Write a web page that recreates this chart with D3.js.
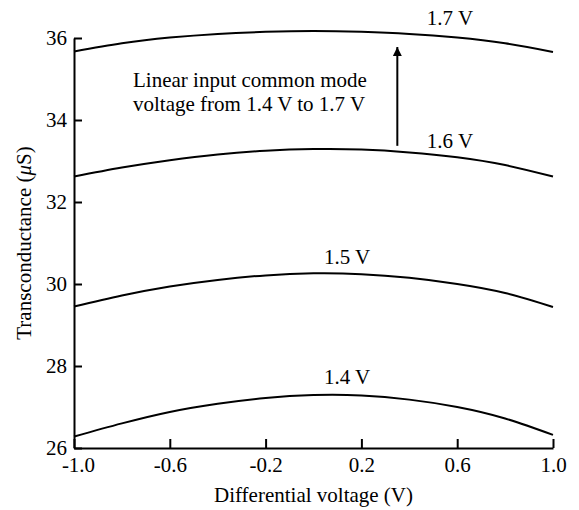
<!DOCTYPE html>
<html>
<head>
<meta charset="utf-8">
<script src="https://cdn.jsdelivr.net/npm/d3@7"></script>
<style>
  body { margin: 0; background: #fff; }
  text { font-family: "Liberation Serif", "Times New Roman", serif; fill: #000; }
</style>
</head>
<body>
<script>
// differential voltage (V)
var xValues = [-1.0, -0.8, -0.6, -0.4, -0.2, 0.0, 0.2, 0.4, 0.6, 0.8, 1.0];

// transconductance (uS) per common mode voltage
var gm14 = [26.28, 26.60, 26.88, 27.08, 27.22, 27.29, 27.28, 27.18, 27.00, 26.72, 26.32];
var gm15 = [29.45, 29.72, 29.94, 30.10, 30.21, 30.26, 30.24, 30.15, 30.00, 29.78, 29.44];
var gm16 = [32.62, 32.84, 33.02, 33.16, 33.25, 33.29, 33.28, 33.21, 33.09, 32.90, 32.62];
var gm17 = [35.67, 35.87, 36.01, 36.10, 36.15, 36.17, 36.15, 36.10, 36.01, 35.87, 35.66];

var seriesNames = ["1.4 V", "1.5 V", "1.6 V", "1.7 V"];
var seriesValues = [gm14, gm15, gm16, gm17];

var xTicks = [-1.0, -0.6, -0.2, 0.2, 0.6, 1.0];
var yTicks = [26, 28, 30, 32, 34, 36];

var width = 579;
var height = 510;
var margin = { top: 38, right: 26, bottom: 62, left: 74 };
var fontSize = 21;

var svg = d3.select("body")
    .append("svg")
    .attr("width", width)
    .attr("height", height);

var x = d3.scaleLinear()
    .domain([-1, 1])
    .range([margin.left, width - margin.right]);

var y = d3.scaleLinear()
    .domain([26, 36])
    .range([height - margin.bottom, margin.top]);

// plain hyphen for negatives, like the figure
var fmt = function (d) { return d3.format(".1f")(d).replace("\u2212", "-"); };

// axes, ticks pointing inward
var xAxis = svg.append("g")
    .attr("transform", `translate(0, ${y(26)})`)
    .call(d3.axisBottom(x)
        .tickValues(xTicks)
        .tickFormat(fmt)
        .tickSizeInner(-9)
        .tickSizeOuter(0)
        .tickPadding(9));

var yAxis = svg.append("g")
    .attr("transform", `translate(${x(-1)}, 0)`)
    .call(d3.axisLeft(y)
        .tickValues(yTicks)
        .tickSizeInner(-8)
        .tickSizeOuter(0)
        .tickPadding(7));

[xAxis, yAxis].forEach(function (g) {
    g.select(".domain").attr("stroke", "#000").attr("stroke-width", 2);
    g.selectAll(".tick line").attr("stroke", "#000").attr("stroke-width", 2);
    g.selectAll(".tick text")
        .attr("font-family", "Liberation Serif, serif")
        .attr("font-size", fontSize)
        .attr("fill", "#000");
});

// first x label sits a bit right of the corner
xAxis.selectAll(".tick text")
    .filter(function (d) { return d === -1; })
    .attr("dx", 4);

// curves
var line = d3.line()
    .x(function (d, i) { return x(xValues[i]); })
    .y(function (d) { return y(d); })
    .curve(d3.curveNatural);

svg.append("g")
    .selectAll("path")
    .data(seriesValues)
    .join("path")
    .attr("d", line)
    .attr("fill", "none")
    .attr("stroke", "#000")
    .attr("stroke-width", 2);

// curve labels (data coordinates)
var labelX = [0.14, 0.14, 0.57, 0.57];
var labelY = [27.56, 30.49, 33.32, 36.32];

svg.append("g")
    .selectAll("text")
    .data(seriesNames)
    .join("text")
    .attr("x", function (d, i) { return x(labelX[i]); })
    .attr("y", function (d, i) { return y(labelY[i]); })
    .attr("text-anchor", "middle")
    .attr("font-size", fontSize)
    .text(function (d) { return d; });

// arrow from 1.6 V toward 1.7 V
svg.append("defs")
    .append("marker")
    .attr("id", "head")
    .attr("viewBox", "0 0 10 10")
    .attr("refX", 10)
    .attr("refY", 5)
    .attr("markerWidth", 9)
    .attr("markerHeight", 9)
    .attr("markerUnits", "userSpaceOnUse")
    .attr("orient", "auto")
    .append("path")
    .attr("d", "M0,0 L10,5 L0,10 Z")
    .attr("fill", "#000");

svg.append("line")
    .attr("x1", x(0.35))
    .attr("y1", y(33.37))
    .attr("x2", x(0.35))
    .attr("y2", y(35.78))
    .attr("stroke", "#000")
    .attr("stroke-width", 2)
    .attr("marker-end", "url(#head)");

var note = svg.append("text")
    .attr("font-size", fontSize);
note.append("tspan")
    .attr("x", 133)
    .attr("y", 87)
    .text("Linear input common mode");
note.append("tspan")
    .attr("x", 133)
    .attr("y", 111)
    .text("voltage from 1.4 V to 1.7 V");

// axis titles
svg.append("text")
    .attr("x", (x(-1) + x(1)) / 2)
    .attr("y", 502)
    .attr("text-anchor", "middle")
    .attr("font-size", fontSize)
    .text("Differential voltage (V)");

var yTitle = svg.append("text")
    .attr("transform", `translate(31, ${(y(26) + y(36)) / 2}) rotate(-90)`)
    .attr("text-anchor", "middle")
    .attr("font-size", fontSize);
yTitle.append("tspan").text("Transconductance (");
yTitle.append("tspan").attr("font-style", "italic").text("\u03bc");
yTitle.append("tspan").text("S)");
</script>
</body>
</html>
